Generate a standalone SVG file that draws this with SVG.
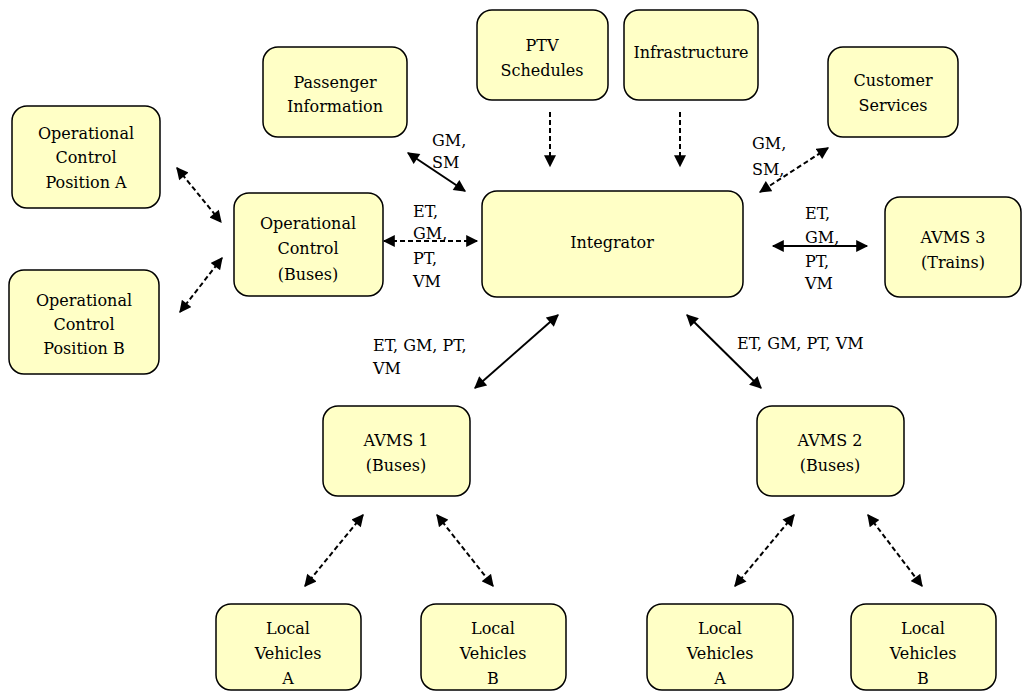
<svg xmlns="http://www.w3.org/2000/svg" width="1022" height="693" viewBox="0 0 1022 693">
<style>
.box{fill:#FFFFC6;stroke:#000;stroke-width:1.5}
.t{font-family:"DejaVu Serif","Liberation Serif",serif;font-size:16px;fill:#000;text-anchor:middle;dominant-baseline:central}
.l{font-family:"DejaVu Serif","Liberation Serif",serif;font-size:16px;fill:#000;dominant-baseline:central}
.s{stroke:#000;stroke-width:2;fill:none}
.d{stroke:#000;stroke-width:2;fill:none;stroke-dasharray:5,3}
</style>
<defs>
<marker id="ah" viewBox="0 0 10 10" refX="9" refY="5" markerWidth="6.5" markerHeight="6" orient="auto-start-reverse" markerUnits="strokeWidth">
<path d="M0,0 L10,5 L0,10 z" fill="#000"/>
</marker>
</defs>
<rect width="1022" height="693" fill="#fff"/>
<g id="passenger"><rect class="box" x="263" y="47" width="144" height="90" rx="15"/><text class="t" x="335" y="82">Passenger</text><text class="t" x="335" y="106">Information</text></g>
<g id="posA"><rect class="box" x="12" y="106" width="148" height="102" rx="15"/><text class="t" x="86" y="133">Operational</text><text class="t" x="86" y="157">Control</text><text class="t" x="86" y="182">Position A</text></g>
<g id="posB"><rect class="box" x="9" y="270" width="150" height="104" rx="15"/><text class="t" x="84" y="300">Operational</text><text class="t" x="84" y="324">Control</text><text class="t" x="84" y="348">Position B</text></g>
<g id="opcontrol"><rect class="box" x="234" y="193" width="149" height="103" rx="15"/><text class="t" x="308" y="223">Operational</text><text class="t" x="308" y="248">Control</text><text class="t" x="308" y="274">(Buses)</text></g>
<g id="ptv"><rect class="box" x="477" y="10" width="131" height="90" rx="15"/><text class="t" x="542" y="45">PTV</text><text class="t" x="542" y="70">Schedules</text></g>
<g id="infra"><rect class="box" x="624" y="10" width="134" height="90" rx="15"/><text class="t" x="691" y="52">Infrastructure</text></g>
<g id="customer"><rect class="box" x="828" y="47" width="130" height="90" rx="15"/><text class="t" x="893" y="80">Customer</text><text class="t" x="893" y="105">Services</text></g>
<g id="integrator"><rect class="box" x="482" y="191" width="261" height="106" rx="15"/><text class="t" x="612" y="242">Integrator</text></g>
<g id="avms3"><rect class="box" x="885" y="197" width="136" height="100" rx="15"/><text class="t" x="953" y="237">AVMS 3</text><text class="t" x="953" y="262">(Trains)</text></g>
<g id="avms1"><rect class="box" x="323" y="406" width="147" height="90" rx="15"/><text class="t" x="396" y="440">AVMS 1</text><text class="t" x="396" y="465">(Buses)</text></g>
<g id="avms2"><rect class="box" x="757" y="406" width="147" height="90" rx="15"/><text class="t" x="830" y="440">AVMS 2</text><text class="t" x="830" y="465">(Buses)</text></g>
<g id="lv1a"><rect class="box" x="216" y="604" width="145" height="86" rx="15"/><text class="t" x="288" y="628">Local</text><text class="t" x="288" y="653">Vehicles</text><text class="t" x="288" y="678">A</text></g>
<g id="lv1b"><rect class="box" x="421" y="604" width="145" height="86" rx="15"/><text class="t" x="493" y="628">Local</text><text class="t" x="493" y="653">Vehicles</text><text class="t" x="493" y="678">B</text></g>
<g id="lv2a"><rect class="box" x="647" y="604" width="146" height="86" rx="15"/><text class="t" x="720" y="628">Local</text><text class="t" x="720" y="653">Vehicles</text><text class="t" x="720" y="678">A</text></g>
<g id="lv2b"><rect class="box" x="851" y="604" width="145" height="86" rx="15"/><text class="t" x="923" y="628">Local</text><text class="t" x="923" y="653">Vehicles</text><text class="t" x="923" y="678">B</text></g>
<g id="connectors">
<line class="d" x1="177" y1="168" x2="221" y2="222" marker-start="url(#ah)" marker-end="url(#ah)"/>
<line class="d" x1="180" y1="312" x2="222" y2="258" marker-start="url(#ah)" marker-end="url(#ah)"/>
<line class="s" x1="408" y1="153" x2="465" y2="191" marker-start="url(#ah)" marker-end="url(#ah)"/>
<line class="d" x1="384" y1="241" x2="477" y2="241" marker-start="url(#ah)" marker-end="url(#ah)"/>
<line class="d" x1="550" y1="112" x2="550" y2="166" marker-end="url(#ah)"/>
<line class="d" x1="680" y1="112" x2="680" y2="166" marker-end="url(#ah)"/>
<line class="d" x1="828" y1="148" x2="760" y2="192" marker-start="url(#ah)" marker-end="url(#ah)"/>
<line class="s" x1="773" y1="246" x2="867" y2="246" marker-start="url(#ah)" marker-end="url(#ah)"/>
<line class="s" x1="558" y1="315" x2="475" y2="388" marker-start="url(#ah)" marker-end="url(#ah)"/>
<line class="s" x1="687" y1="315" x2="761" y2="388" marker-start="url(#ah)" marker-end="url(#ah)"/>
<line class="d" x1="363" y1="515" x2="305" y2="586" marker-start="url(#ah)" marker-end="url(#ah)"/>
<line class="d" x1="437" y1="515" x2="493" y2="586" marker-start="url(#ah)" marker-end="url(#ah)"/>
<line class="d" x1="794" y1="515" x2="735" y2="586" marker-start="url(#ah)" marker-end="url(#ah)"/>
<line class="d" x1="868" y1="515" x2="922" y2="586" marker-start="url(#ah)" marker-end="url(#ah)"/>
</g>
<g id="labels">
<text class="l" x="432" y="140">GM,</text><text class="l" x="432" y="162">SM</text>
<text class="l" x="413" y="211">ET,</text><text class="l" x="413" y="233">GM,</text><text class="l" x="413" y="258">PT,</text><text class="l" x="413" y="281">VM</text>
<text class="l" x="752" y="143">GM,</text><text class="l" x="752" y="169">SM,</text>
<text class="l" x="805" y="213">ET,</text><text class="l" x="805" y="237">GM,</text><text class="l" x="805" y="261">PT,</text><text class="l" x="805" y="283">VM</text>
<text class="l" x="373" y="345">ET, GM, PT,</text><text class="l" x="373" y="368">VM</text>
<text class="l" x="737" y="343">ET, GM, PT, VM</text>
</g>
</svg>
